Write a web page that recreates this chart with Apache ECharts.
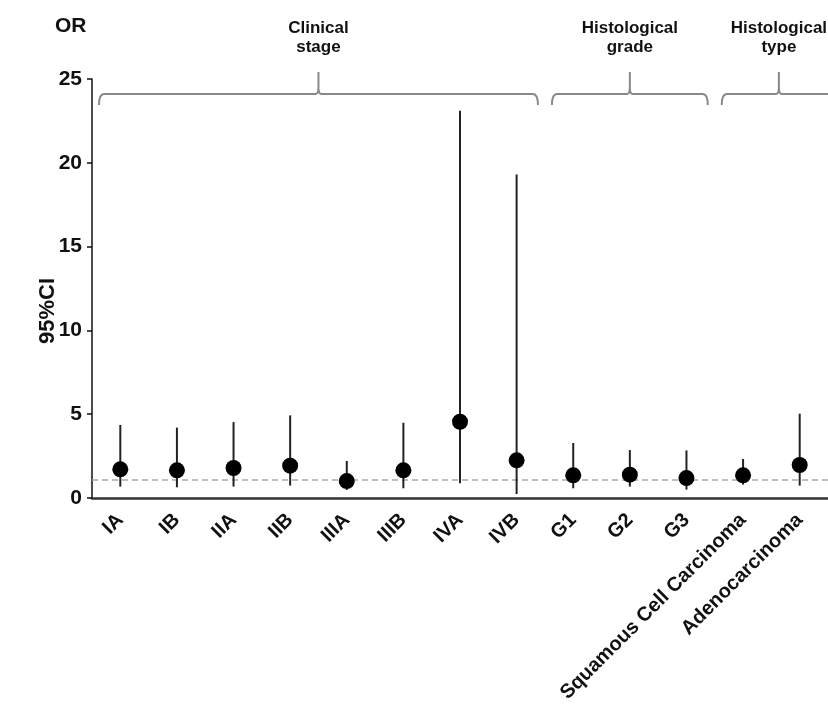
<!DOCTYPE html>
<html>
<head>
<meta charset="utf-8">
<script src="https://cdn.jsdelivr.net/npm/echarts@6/dist/echarts.min.js"></script>
<style>
  html, body { margin: 0; padding: 0; background: #fff; }
  #main { width: 828px; height: 714px; }
</style>
</head>
<body>
<div id="main"></div>
<script>
// categories and values
var categories = ['IA', 'IB', 'IIA', 'IIB', 'IIIA', 'IIIB', 'IVA', 'IVB',
  'G1', 'G2', 'G3', 'Squamous Cell Carcinoma', 'Adenocarcinoma'];
var orValues = [1.71, 1.65, 1.79, 1.93, 1.01, 1.65, 4.55, 2.25, 1.35, 1.39, 1.19, 1.35, 1.97];
var ciLow = [0.68, 0.64, 0.68, 0.74, 0.48, 0.58, 0.88, 0.24, 0.58, 0.68, 0.50, 0.80, 0.74];
var ciHigh = [4.36, 4.20, 4.53, 4.93, 2.21, 4.49, 23.1, 19.3, 3.28, 2.86, 2.84, 2.33, 5.03];
var refLine = 1.1;
var yTicks = [0, 5, 10, 15, 20, 25];

// group braces: label, first category, last category
var groupNames = ['Clinical\nstage', 'Histological\ngrade', 'Histological\ntype'];
var groupFrom = [0, 8, 11];
var groupTo = [7, 10, 12];

var font = '"Liberation Sans", Arial, sans-serif';
var narrow = '"Liberation Sans Narrow", "Liberation Sans", Arial, sans-serif';

var myChart = echarts.init(document.getElementById('main'), null, { renderer: 'canvas' });

var errData = categories.map(function (c, i) { return [i, ciLow[i], ciHigh[i]]; });
var braceData = groupNames.map(function (n, i) { return [groupFrom[i], groupTo[i], 24.1, n]; });

var option = {
  animation: false,
  backgroundColor: '#fff',
  grid: { left: 92, top: 79, width: 741, height: 419 },
  graphic: [
    {
      type: 'text', left: 55, top: 16,
      style: { text: 'OR', fontSize: 21, fontWeight: 'bold', fontFamily: font, fill: '#111' }
    },
    {
      type: 'text', x: 48, y: 311, rotation: Math.PI / 2,
      style: {
        text: '95%CI', fontSize: 22, fontWeight: 'bold', fontFamily: font, fill: '#111',
        align: 'center', verticalAlign: 'middle'
      }
    }
  ],
  xAxis: {
    type: 'category',
    data: categories,
    boundaryGap: true,
    axisLine: { lineStyle: { color: '#333', width: 2.5 } },
    axisTick: { length: 5, lineStyle: { color: '#333', width: 1.5 } },
    axisLabel: {
      rotate: 45, interval: 0, margin: 19,
      fontSize: 20, fontWeight: 'bold', fontFamily: font, color: '#111'
    }
  },
  yAxis: {
    type: 'value',
    min: 0, max: 25, interval: 5,
    splitLine: { show: false },
    axisLine: { show: true, lineStyle: { color: '#111', width: 1.5 } },
    axisTick: { show: true, length: 5, lineStyle: { color: '#111', width: 1.5 } },
    axisLabel: {
      margin: 10, fontSize: 21, fontWeight: 'bold', fontFamily: font, color: '#111',
      formatter: function (v) { return yTicks.indexOf(v) >= 0 ? String(v) : ''; }
    }
  },
  series: [
    {
      type: 'custom',
      name: 'CI',
      data: errData,
      clip: false,
      z: 2,
      renderItem: function (params, api) {
        var p1 = api.coord([api.value(0), api.value(1)]);
        var p2 = api.coord([api.value(0), api.value(2)]);
        return {
          type: 'line',
          shape: { x1: p1[0], y1: p1[1], x2: p2[0], y2: p2[1] },
          style: { stroke: '#222', lineWidth: 2 }
        };
      },
      markLine: {
        silent: true,
        symbol: 'none',
        z: 1,
        label: { show: false },
        lineStyle: { color: '#aaa', type: [6, 4], width: 1.5 },
        data: [{ yAxis: refLine }]
      }
    },
    {
      type: 'scatter',
      name: 'OR',
      data: orValues,
      symbol: 'circle',
      symbolSize: 16,
      itemStyle: { color: '#000', opacity: 1 },
      z: 3
    },
    {
      type: 'custom',
      name: 'groups',
      data: braceData,
      clip: false,
      silent: true,
      z: 1,
      renderItem: function (params, api) {
        var a = api.coord([api.value(0), api.value(2)]);
        var b = api.coord([api.value(1), api.value(2)]);
        var half = api.size([1, 0])[0] / 2;
        var x0 = a[0] - half + 7;
        var x1 = b[0] + half - 7;
        if (params.dataIndex === braceData.length - 1) x1 = b[0] + half + 8;
        var y = a[1];
        var m = (x0 + x1) / 2;
        var r = 5;
        var path = 'M' + x0 + ',' + (y + 11) +
          ' Q' + x0 + ',' + y + ' ' + (x0 + r) + ',' + y +
          ' L' + (m - 3) + ',' + y +
          ' Q' + m + ',' + y + ' ' + m + ',' + (y - 6) +
          ' L' + m + ',' + (y - 22) +
          ' M' + m + ',' + (y - 6) +
          ' Q' + m + ',' + y + ' ' + (m + 3) + ',' + y +
          ' L' + (x1 - r) + ',' + y +
          ' Q' + x1 + ',' + y + ' ' + x1 + ',' + (y + 11);
        return {
          type: 'group',
          children: [
            {
              type: 'path',
              shape: { pathData: path },
              style: { stroke: '#888', lineWidth: 2, fill: null }
            },
            {
              type: 'text',
              x: m, y: y - 37,
              style: {
                text: api.value(3), fontSize: 17, fontWeight: 'bold', fontFamily: narrow,
                fill: '#111', align: 'center', verticalAlign: 'bottom', lineHeight: 19
              }
            }
          ]
        };
      }
    }
  ]
};
myChart.setOption(option);
</script>
</body>
</html>
